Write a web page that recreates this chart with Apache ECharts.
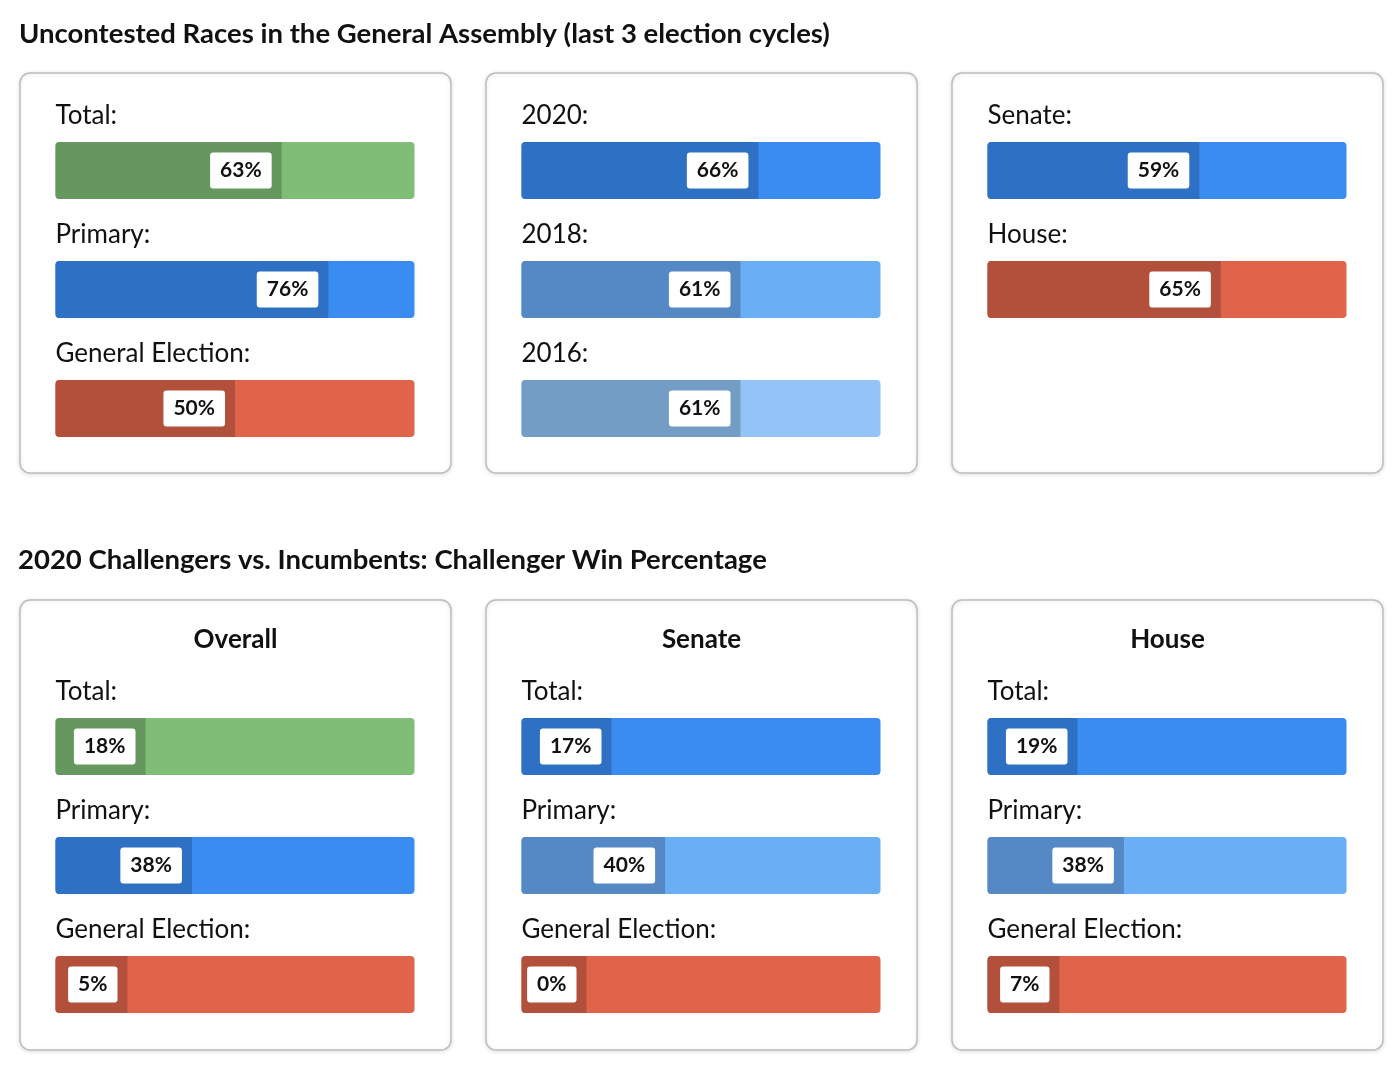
<!DOCTYPE html>
<html>
<head>
<meta charset="utf-8">
<title>Uncontested Races / Challenger Win Percentage</title>
<script src="https://cdn.jsdelivr.net/npm/echarts@6/dist/echarts.min.js"></script>
<style>
  html, body { margin: 0; padding: 0; background: #fff; }
  #chart { width: 1400px; height: 1071px; }
</style>
</head>
<body>
<div id="chart"></div>
<script>
var TITLE_TOP = 'Uncontested Races in the General Assembly (last 3 election cycles)';
var TITLE_BOTTOM = '2020 Challengers vs. Incumbents: Challenger Win Percentage';

// uncontested share, last 3 cycles
var TOTAL_LABELS = ['Total:', 'Primary:', 'General Election:'];
var TOTAL_VALUES = [63, 76, 50];
var YEAR_LABELS = ['2020:', '2018:', '2016:'];
var YEAR_VALUES = [66, 61, 61];
var CHAMBER_LABELS = ['Senate:', 'House:'];
var CHAMBER_VALUES = [59, 65];

// 2020 challenger win percentage
var PANEL_NAMES = ['Overall', 'Senate', 'House'];
var RACE_LABELS = ['Total:', 'Primary:', 'General Election:'];
var OVERALL_VALUES = [18, 38, 5];
var SENATE_VALUES = [17, 40, 0];
var HOUSE_VALUES = [19, 38, 7];

// [track, fill]
var PALETTE = {
  green: ['#80bd77', '#66975f'],
  blue: ['#3a8cf0', '#2e70c3'],
  blue2: ['#6aaff5', '#5589c6'],
  blue3: ['#94c4f7', '#749dc6'],
  red: ['#e0644a', '#b3503b']
};

var FONT = 'Lato';
var COL_X = [20, 486, 952];
var PANEL_W = 431;
var BAR_INSET = 35.5;
var BAR_LEN = 359;
var BAR_H = 57;
var ROW_STEP = 119;

var panels = [
  { col: 0, top: 73, h: 400, firstBar: 142, labels: TOTAL_LABELS, values: TOTAL_VALUES, colors: ['green', 'blue', 'red'] },
  { col: 1, top: 73, h: 400, firstBar: 142, labels: YEAR_LABELS, values: YEAR_VALUES, colors: ['blue', 'blue2', 'blue3'] },
  { col: 2, top: 73, h: 400, firstBar: 142, labels: CHAMBER_LABELS, values: CHAMBER_VALUES, colors: ['blue', 'red'] },
  { col: 0, top: 600, h: 450, firstBar: 718, name: PANEL_NAMES[0], labels: RACE_LABELS, values: OVERALL_VALUES, colors: ['green', 'blue', 'red'] },
  { col: 1, top: 600, h: 450, firstBar: 718, name: PANEL_NAMES[1], labels: RACE_LABELS, values: SENATE_VALUES, colors: ['blue', 'blue2', 'red'] },
  { col: 2, top: 600, h: 450, firstBar: 718, name: PANEL_NAMES[2], labels: RACE_LABELS, values: HOUSE_VALUES, colors: ['blue', 'blue2', 'red'] }
];

// the fill never gets shorter than its label box
function minBarLength(text) {
  if (text === '0%') return 65;
  return text.length < 3 ? 72 : 90;
}

var grids = [], xAxes = [], yAxes = [], series = [];
var graphics = [
  { type: 'text', left: 19, top: 20, style: { text: TITLE_TOP, font: 'bold 27.5px ' + FONT, fill: '#111' } },
  { type: 'text', left: 18, top: 546, style: { text: TITLE_BOTTOM, font: 'bold 27.5px ' + FONT, fill: '#111' } }
];

panels.forEach(function (p) {
  var px = COL_X[p.col];
  graphics.push({
    type: 'rect', z: -1,
    shape: { x: px, y: p.top, width: PANEL_W, height: p.h, r: 10 },
    style: { fill: '#fff', stroke: '#bdbdbd', lineWidth: 1.5, shadowBlur: 4, shadowOffsetY: 1, shadowColor: 'rgba(0,0,0,0.12)' }
  });
  if (p.name) {
    graphics.push({
      type: 'text', z: 1,
      x: px + PANEL_W / 2, y: 640,
      style: { text: p.name, font: 'bold 26px ' + FONT, fill: '#111', textAlign: 'center', textVerticalAlign: 'middle' }
    });
  }

  p.values.forEach(function (v, i) {
    var gi = grids.length;
    var pal = PALETTE[p.colors[i]];
    var txt = v + '%';
    grids.push({ left: px + BAR_INSET, width: BAR_LEN, top: p.firstBar + i * ROW_STEP, height: BAR_H });
    xAxes.push({ type: 'value', gridIndex: gi, min: 0, max: 100, show: false });
    yAxes.push({ type: 'category', gridIndex: gi, data: [p.labels[i]], show: false });

    series.push({
      type: 'bar', xAxisIndex: gi, yAxisIndex: gi, silent: true,
      data: [100], barWidth: BAR_H,
      itemStyle: { color: pal[0], borderRadius: 4 },
      label: {
        show: true, formatter: '{b}', position: [0, -26],
        align: 'left', verticalAlign: 'middle',
        fontFamily: FONT, fontSize: 26, color: '#111'
      }
    });
    series.push({
      type: 'bar', xAxisIndex: gi, yAxisIndex: gi, silent: true,
      data: [v], barWidth: BAR_H, barGap: '-100%',
      barMinHeight: minBarLength(txt),
      itemStyle: { color: pal[1], borderRadius: [4, 0, 0, 4] },
      label: {
        show: true, position: 'insideRight', distance: 10,
        formatter: '{c}%',
        backgroundColor: '#fff', borderRadius: 3, padding: [8, 10, 7, 10],
        fontFamily: FONT, fontSize: 21, fontWeight: 'bold', color: '#111'
      }
    });
  });
});

var chart = echarts.init(document.getElementById('chart'), null, { renderer: 'canvas' });
chart.setOption({
  backgroundColor: '#fff',
  animation: false,
  graphic: graphics,
  grid: grids,
  xAxis: xAxes,
  yAxis: yAxes,
  series: series
});
</script>
</body>
</html>
